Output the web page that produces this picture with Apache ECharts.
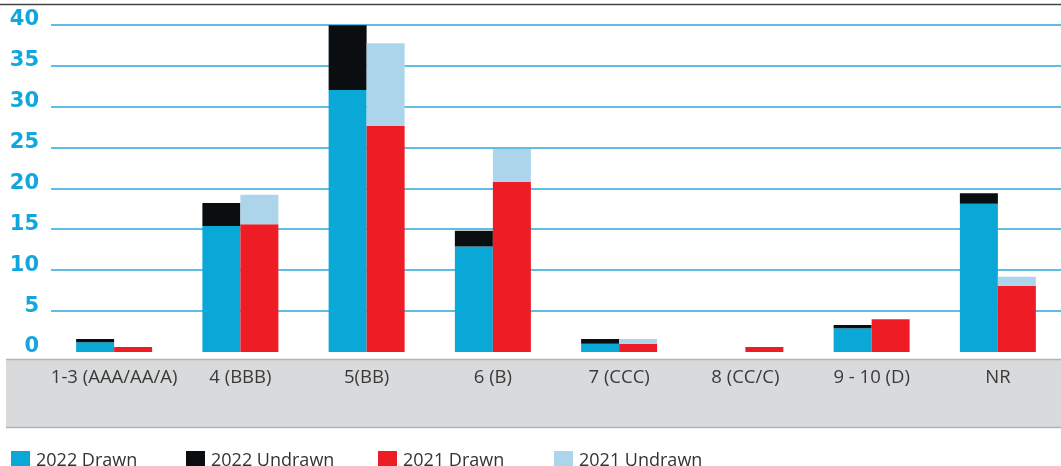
<!DOCTYPE html>
<html><head><meta charset="utf-8">
<script src="https://cdn.jsdelivr.net/npm/echarts@6/dist/echarts.min.js"></script>
<style>html,body{margin:0;padding:0;background:#fff}#c{width:1061px;height:466px}</style>
</head><body><div id="c"></div>
<script>
const categories = ['1-3 (AAA/AA/A)', '4 (BBB)', '5(BB)', '6 (B)', '7 (CCC)', '8 (CC/C)', '9 - 10 (D)', 'NR'];
const drawn2022 = [1.2, 15.4, 32.0, 12.9, 1.0, 0, 2.9, 18.1];
const undrawn2022 = [0.4, 2.8, 7.9, 1.9, 0.6, 0, 0.4, 1.3];
const drawn2021 = [0.6, 15.6, 27.6, 20.8, 1.0, 0.6, 4.0, 8.1];
const undrawn2021 = [0, 3.6, 10.1, 4.0, 0.6, 0, 0, 1.1];
const seriesNames = ['2022 Drawn', '2022 Undrawn', '2021 Drawn', '2021 Undrawn'];
const colors = ['#0aa8d7', '#0a0e11', '#ee1d25', '#acd5ec'];
const legendX = [6, 181, 373, 549];

const chart = echarts.init(document.getElementById('c'), null, {renderer: 'canvas'});
const font = 'Open Sans';
const mk = (name, data, stack, color) => ({
  name, type: 'bar', stack, data, barWidth: 38, barGap: '0%',
  itemStyle: {color}, emphasis: {disabled: true}
});
chart.setOption({
  animation: false,
  color: colors,
  grid: {left: 51, right: 0, top: 24.5, bottom: 114, containLabel: false},
  legend: seriesNames.map((n, i) => ({
    data: [n], left: legendX[i], top: 446, itemWidth: 19, itemHeight: 19, itemGap: 0,
    icon: 'rect', selectedMode: false,
    textStyle: {fontFamily: font, fontSize: 18, color: '#333', padding: [0, 0, 0, 1]}
  })),
  graphic: [
    {type: 'rect', shape: {x: 6, y: 359, width: 1060, height: 69}, style: {fill: '#d9dadc'}, z: -1, silent: true},
    {type: 'line', shape: {x1: 6, y1: 359.5, x2: 1061, y2: 359.5}, style: {stroke: '#b3b3b3', lineWidth: 1.5}, z: 0, silent: true},
    {type: 'line', shape: {x1: 6, y1: 427.5, x2: 1061, y2: 427.5}, style: {stroke: '#b3b3b3', lineWidth: 1.5}, z: 0, silent: true},
    {type: 'line', shape: {x1: 0, y1: 4.5, x2: 1061, y2: 4.5}, style: {stroke: '#444', lineWidth: 1.5}, z: 0, silent: true}
  ],
  xAxis: {
    type: 'category', data: categories,
    axisLine: {show: false}, axisTick: {show: false},
    axisLabel: {fontFamily: font, fontSize: 18.5, color: '#3a3a3a', margin: 16, interval: 0}
  },
  yAxis: {
    type: 'value', min: 0, max: 40, interval: 5,
    axisLine: {show: false}, axisTick: {show: false},
    splitLine: {show: true, showMinLine: false, lineStyle: {color: '#2aa8de', width: 1.5}},
    axisLabel: {fontFamily: 'DejaVu Sans', fontWeight: 'bold', fontSize: 21, color: '#12a6df', margin: 12,
      verticalAlign: 'bottom', lineHeight: 10}
  },
  series: [
    mk(seriesNames[0], drawn2022, 'y2022', colors[0]),
    mk(seriesNames[1], undrawn2022, 'y2022', colors[1]),
    mk(seriesNames[2], drawn2021, 'y2021', colors[2]),
    mk(seriesNames[3], undrawn2021, 'y2021', colors[3])
  ]
});
</script></body></html>
